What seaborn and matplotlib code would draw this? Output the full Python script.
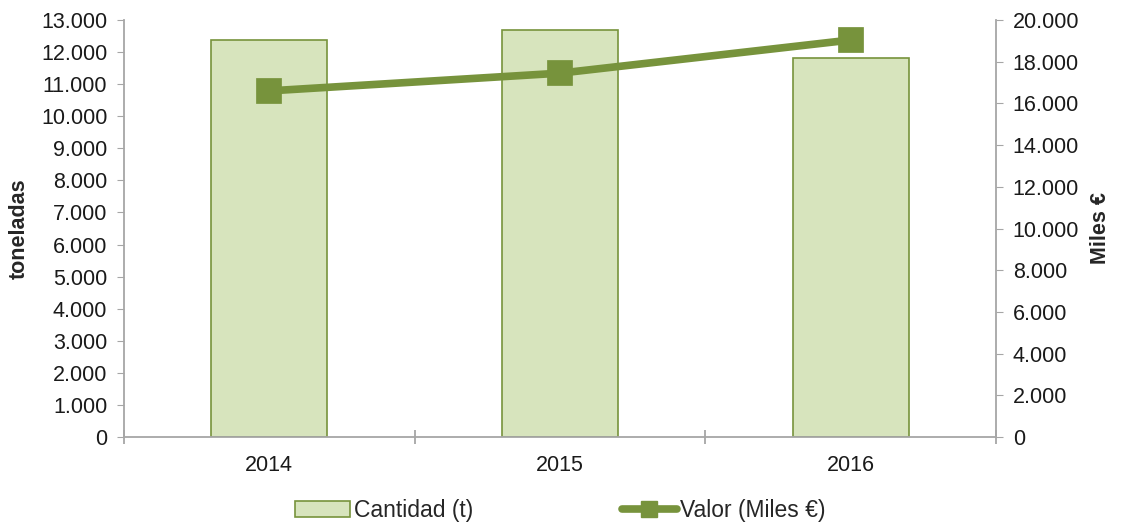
import seaborn as sns
import matplotlib.pyplot as plt
from matplotlib.ticker import FuncFormatter, FixedLocator
from matplotlib.patches import Patch
from matplotlib.lines import Line2D

# datos
years = ["2014", "2015", "2016"]
cantidad_t = [12380, 12690, 11810]      # toneladas (eje izq.)
valor_miles = [16600, 17450, 19040]     # miles de euros (eje dcho.)

bar_fill = "#D7E4BD"
green = "#77933C"
axis_grey = "#A6A6A6"

sns.set_style("white")
plt.rcParams["font.family"] = ["Liberation Sans", "DejaVu Sans"]
plt.rcParams["font.size"] = 15

fig = plt.figure(figsize=(11.21, 5.22), dpi=100)
ax = fig.add_axes([0.1106, 0.1628, 0.7779, 0.7989])

# barras - cantidad
sns.barplot(x=years, y=cantidad_t, ax=ax, color=bar_fill, edgecolor=green,
            linewidth=1.2, width=0.4, saturation=1)

# linea - valor
ax2 = ax.twinx()
sns.pointplot(x=years, y=valor_miles, ax=ax2, color=green, markers="s",
              markersize=14, linewidth=5.5)

ax.set_xlim(-0.5, 2.5)
ax.set_ylim(0, 13000)
ax2.set_ylim(0, 20000)
ax.set_yticks(range(0, 13001, 1000))
ax2.set_yticks(range(0, 20001, 2000))

fmt = FuncFormatter(lambda v, p: f"{v:,.0f}".replace(",", "."))
ax.yaxis.set_major_formatter(fmt)
ax2.yaxis.set_major_formatter(fmt)

ax.set_xlabel("")
ax.set_ylabel("toneladas", fontweight="bold", fontsize=15.5, labelpad=8)
ax2.set_ylabel("Miles €", fontweight="bold", fontsize=15.5, labelpad=8)

# ejes
for a in (ax, ax2):
    for s in a.spines.values():
        s.set_visible(False)
    a.grid(False)
ax.spines["left"].set_visible(True)
ax.spines["bottom"].set_visible(True)
ax2.spines["right"].set_visible(True)
for s in (ax.spines["left"], ax.spines["bottom"], ax2.spines["right"]):
    s.set_color(axis_grey)
    s.set_linewidth(1.3)

ax.tick_params(axis="y", left=True, length=5, color=axis_grey, labelsize=15.5,
               labelcolor="#1a1a1a", pad=7)
ax2.tick_params(axis="y", right=True, length=5, color=axis_grey, labelsize=15.5,
                labelcolor="#1a1a1a", pad=7)
ax.tick_params(axis="x", which="major", length=0, labelsize=15.5,
               labelcolor="#1a1a1a", pad=13)
ax.xaxis.set_minor_locator(FixedLocator([-0.5, 0.5, 1.5, 2.5]))
ax.tick_params(axis="x", which="minor", bottom=True, direction="inout",
               length=10, color=axis_grey, width=1.3)

# leyenda abajo
handles = [
    Patch(facecolor=bar_fill, edgecolor=green, linewidth=1.2, label="Cantidad (t)"),
    Line2D([0], [0], color=green, lw=5.5, marker="s", markersize=11,
           label="Valor (Miles €)"),
]
fig.legend(handles=handles, loc="lower center", ncol=2, frameon=False,
           bbox_to_anchor=(0.5, -0.04), fontsize=16.5, handlelength=2.4,
           handletextpad=0.15, columnspacing=6.5)

plt.savefig("out.png", dpi=100)
plt.close()
